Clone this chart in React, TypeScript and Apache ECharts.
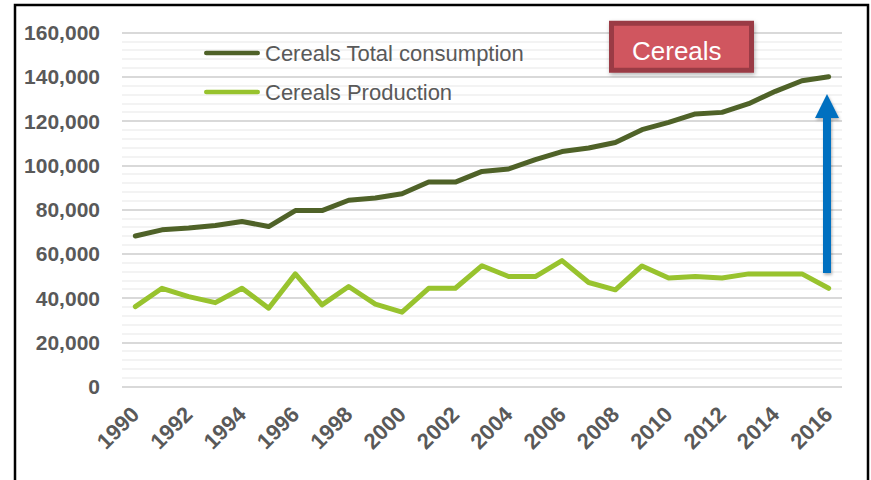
import React, { useEffect, useRef } from "react";
import * as echarts from "echarts";

const years = ["1990","1991","1992","1993","1994","1995","1996","1997","1998","1999","2000","2001","2002","2003","2004","2005","2006","2007","2008","2009","2010","2011","2012","2013","2014","2015","2016"];
const consumption = [68000, 70800, 71600, 72800, 74600, 72300, 79500, 79500, 84200, 85200, 87100, 92400, 92400, 97200, 98300, 102500, 106200, 107800, 110300, 116100, 119400, 123200, 123900, 127800, 133400, 138200, 140000];
const production = [36100, 44400, 40600, 37900, 44400, 35400, 50900, 36900, 45200, 37200, 33600, 44400, 44400, 54600, 49700, 49700, 56900, 47000, 43700, 54500, 49000, 49700, 49000, 50900, 50900, 50900, 44400];
const seriesNames = ["Cereals Total consumption", "Cereals Production"];
const titleText = "Cereals";

const FONT = "'Liberation Sans', Arial, sans-serif";
const LINE_ICON = "path://M2.5,0 H57.5 A2.5,2.5 0 0 1 57.5,5 H2.5 A2.5,2.5 0 0 1 2.5,0 Z";

export default function App() {
  const ref = useRef<HTMLDivElement>(null);
  useEffect(() => {
    if (!ref.current) return;
    const chart = echarts.init(ref.current, undefined, { renderer: "svg" });
    chart.setOption({
      animation: false,
      backgroundColor: "#ffffff",
      textStyle: { fontFamily: FONT },
      grid: { left: 122, right: 29, top: 32.5, bottom: 93.5, containLabel: false },
      legend: {
        orient: "vertical",
        left: 199,
        top: 37,
        itemWidth: 56,
        itemHeight: 22,
        itemGap: 17,
        icon: LINE_ICON,
        textStyle: { fontSize: 22, color: "#595959", fontFamily: FONT, lineHeight: 22 },
        data: seriesNames,
      },
      xAxis: {
        type: "category",
        data: years,
        boundaryGap: true,
        axisLine: { show: false },
        axisTick: { show: false },
        axisLabel: {
          interval: 1,
          rotate: 45,
          margin: 24,
          fontSize: 22,
          fontWeight: "bold",
          color: "#595959",
          fontFamily: FONT,
        },
      },
      yAxis: {
        type: "value",
        min: 0,
        max: 160000,
        interval: 20000,
        axisLine: { show: false },
        axisTick: { show: false },
        axisLabel: {
          margin: 22,
          fontSize: 21,
          fontWeight: "bold",
          color: "#595959",
          fontFamily: FONT,
          formatter: (v: number) => v.toLocaleString("en-US"),
        },
        splitLine: { show: true, lineStyle: { color: "#d9d9d9", width: 2 } },
        minorTick: { show: false, splitNumber: 5 },
        minorSplitLine: { show: true, lineStyle: { color: "#efefef", width: 1.5 } },
      },
      series: [
        {
          name: seriesNames[0],
          type: "line",
          data: consumption,
          symbol: "none",
          color: "#4f6228",
          lineStyle: { width: 5, color: "#4f6228", cap: "round", join: "round" },
        },
        {
          name: seriesNames[1],
          type: "line",
          data: production,
          symbol: "none",
          color: "#98c32e",
          lineStyle: { width: 5, color: "#98c32e", cap: "round", join: "round" },
        },
      ],
      graphic: [
        {
          type: "rect",
          z: 100,
          shape: { x: 15, y: 5, width: 853, height: 490 },
          style: { fill: "none", stroke: "#000000", lineWidth: 2.5 },
          silent: true,
        },
        {
          type: "rect",
          z: 100,
          shape: { x: 611.5, y: 23.2, width: 140, height: 47 },
          style: {
            fill: "#d0575e",
            stroke: "#9a3a44",
            lineWidth: 5,
            shadowBlur: 4,
            shadowOffsetX: 1,
            shadowOffsetY: 2,
            shadowColor: "rgba(0,0,0,0.3)",
          },
        },
        {
          type: "text",
          z: 101,
          x: 632,
          y: 51,
          style: {
            text: titleText,
            fill: "#ffffff",
            fontSize: 26,
            fontFamily: FONT,
            textAlign: "left",
            textVerticalAlign: "middle",
          },
        },
        {
          type: "polygon",
          z: 100,
          shape: {
            points: [
              [823, 273],
              [823, 118],
              [815, 118],
              [827, 94],
              [839, 118],
              [831, 118],
              [831, 273],
            ],
          },
          style: {
            fill: "#0070c0",
            shadowBlur: 3,
            shadowOffsetX: 1,
            shadowOffsetY: 2,
            shadowColor: "rgba(0,0,0,0.3)",
          },
        },
      ],
    });
    return () => chart.dispose();
  }, []);
  return (
    <div
      ref={ref}
      style={{ position: "fixed", left: 0, top: 0, width: 871, height: 480, background: "#fff" }}
    />
  );
}
